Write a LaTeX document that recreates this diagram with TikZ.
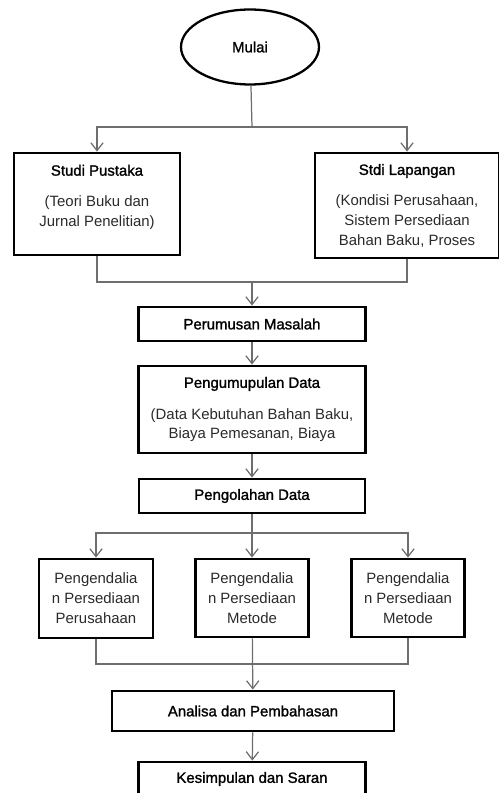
\documentclass[tikz,border=0pt]{standalone}
\usepackage{fontspec}
\setmainfont{Liberation Sans}
\newfontfamily\medfont[FakeBold=1.4]{Liberation Sans}
\usepackage{xcolor}
\usepackage{tikz}
\usetikzlibrary{shapes.geometric,arrows.meta}

\definecolor{linegray}{HTML}{6E6E6E}
\definecolor{textgray}{HTML}{2A2A2A}
\newcommand{\boxtitle}[1]{{\medfont\color{black}#1}}

\begin{document}
\begin{tikzpicture}[x=0.02cm,y=-0.02cm,
    every node/.style={font=\fontsize{8.5}{11.3}\selectfont,text=textgray,align=center},
    startnode/.style={ellipse,draw,line width=1.3pt,minimum width=2.76cm,minimum height=1.5cm,inner sep=0pt},
    stepbox/.style={rectangle,draw,line width=1.6pt,inner sep=2pt},
    conn/.style={draw=linegray,line width=0.7pt},
    arr/.style={conn,-{Straight Barb[length=4.5pt,width=7pt]}}]
    \useasboundingbox (0,0) rectangle (499,793);
    \clip (0,0) rectangle (499,793);
    % start
    \node[startnode] (mulai) at (250,47) {\boxtitle{Mulai}};
    % studi
    \node[stepbox,minimum width=3.32cm,minimum height=2.04cm] (pustaka) at (97,204)
        {\boxtitle{Studi Pustaka}\\[6.5pt](Teori Buku dan\\Jurnal Penelitian)\\[-2pt]\mbox{}};
    \node[stepbox,minimum width=3.68cm,minimum height=2.1cm] (lapangan) at (407,205.5)
        {\boxtitle{Stdi Lapangan}\\[6pt](Kondisi Perusahaan,\\Sistem Persediaan\\Bahan Baku, Proses};
    % masalah dan data
    \node[stepbox,minimum width=4.54cm,minimum height=0.68cm] (rumusan) at (252,324) {\boxtitle{Perumusan Masalah}};
    \node[stepbox,minimum width=4.54cm,minimum height=1.74cm] (kumpul) at (252,409.5)
        {\boxtitle{Pengumupulan Data}\\[6.5pt](Data Kebutuhan Bahan Baku,\\Biaya Pemesanan, Biaya};
    \node[stepbox,minimum width=4.52cm,minimum height=0.68cm] (olah) at (252,496) {\boxtitle{Pengolahan Data}};
    % pengendalian
    \node[stepbox,minimum width=2.28cm,minimum height=1.58cm] (ctrlA) at (96,598.5) {Pengendalia\\n Persediaan\\Perusahaan};
    \node[stepbox,minimum width=2.26cm,minimum height=1.56cm] (ctrlB) at (252,598) {Pengendalia\\n Persediaan\\Metode};
    \node[stepbox,minimum width=2.26cm,minimum height=1.56cm] (ctrlC) at (408,598) {Pengendalia\\n Persediaan\\Metode};
    % akhir
    \node[stepbox,minimum width=5.64cm,minimum height=0.8cm] (analisa) at (253,711) {\boxtitle{Analisa dan Pembahasan}};
    \node[stepbox,minimum width=4.54cm,minimum height=0.68cm] (simpul) at (252,779) {\boxtitle{Kesimpulan dan Saran}};

    \coordinate (split1) at (252,127);
    \coordinate (merge1) at (252,282);
    \coordinate (split2) at (252,533);
    \coordinate (merge2) at (252,664);

    \draw[conn] (mulai) -- (split1);
    \draw[arr] (split1) -| (pustaka);
    \draw[arr] (split1) -| (lapangan);
    \draw[conn] (pustaka) |- (merge1) -| (lapangan);
    \draw[arr] (merge1) -- (rumusan);
    \draw[arr] (rumusan) -- (kumpul);
    \draw[arr] (kumpul) -- (olah);
    \draw[conn] (olah) -- (split2);
    \draw[arr] (split2) -| (ctrlA);
    \draw[arr] (split2) -- (ctrlB);
    \draw[arr] (split2) -| (ctrlC);
    \draw[conn] (ctrlA) |- (merge2) -| (ctrlC);
    \draw[arr] (ctrlB) -- (analisa);
    \draw[arr] (analisa) -- (simpul);
\end{tikzpicture}
\end{document}
